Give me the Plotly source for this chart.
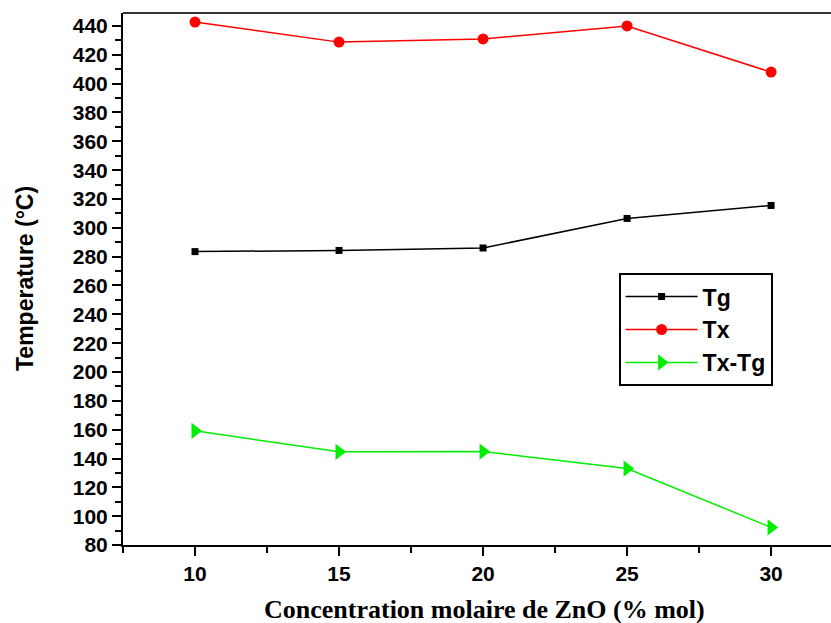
import plotly.graph_objects as go

conc = [10, 15, 20, 25, 30]
tg = [283.5, 284.3, 286, 306.5, 315.5]
tx = [442.7, 428.8, 431, 440, 408]
tx_tg = [159.2, 144.6, 144.8, 133, 92.2]

fig = go.Figure()
fig.add_trace(go.Scatter(x=conc, y=tg, mode="lines+markers", name="Tg",
                         line=dict(color="black", width=1.5),
                         marker=dict(symbol="square", size=7, color="black")))
fig.add_trace(go.Scatter(x=conc, y=tx, mode="lines+markers", name="Tx",
                         line=dict(color="#ff0000", width=1.5),
                         marker=dict(symbol="circle", size=11, color="#ff0000")))
fig.add_trace(go.Scatter(x=conc, y=tx_tg, mode="lines+markers", name="Tx-Tg",
                         line=dict(color="#00ee00", width=1.5),
                         marker=dict(symbol="triangle-right", size=14, color="#00ee00")))

fig.update_layout(
    width=831, height=623,
    margin=dict(l=123, r=0, t=13, b=78),
    paper_bgcolor="white", plot_bgcolor="white",
    font=dict(family="Liberation Sans, Arial", color="black"),
    showlegend=True,
    legend=dict(x=0.70, y=0.511, xanchor="left", yanchor="top",
                bordercolor="black", borderwidth=2, bgcolor="white",
                font=dict(size=23, weight="bold", family="Liberation Sans, Arial"),
                itemwidth=72, tracegroupgap=2,
                entrywidth=166, entrywidthmode="pixels"),
    shapes=[dict(type="line", xref="paper", yref="paper", x0=0, x1=1, y0=1, y1=1,
                 line=dict(color="#333", width=2))],
    annotations=[
        dict(text="Concentration molaire de ZnO (% mol)", xref="paper", yref="paper",
             x=0.5, y=0, xanchor="center", yanchor="middle", yshift=-64, xshift=7,
             showarrow=False,
             font=dict(family="Liberation Serif, Times New Roman", size=26, weight="bold")),
        dict(text="Temperature (°C)", xref="paper", yref="paper",
             x=0, y=0.5, xanchor="center", yanchor="middle", xshift=-98, yshift=0,
             textangle=-90, showarrow=False,
             font=dict(size=23, weight="bold")),
    ],
)
fig.update_xaxes(range=[7.5, 32.08], tickvals=conc, showgrid=False, zeroline=False,
                 automargin=False,
                 showline=True, linecolor="black", linewidth=2,
                 ticks="outside", ticklen=9, tickwidth=2, tickcolor="black",
                 minor=dict(tickvals=[7.5, 12.5, 17.5, 22.5, 27.5, 32.5], ticks="outside",
                            ticklen=6, tickwidth=2, tickcolor="black"),
                 tickfont=dict(size=21, weight="bold"))
fig.update_yaxes(range=[80, 449], tickvals=list(range(80, 441, 20)), showgrid=False, zeroline=False,
                 automargin=False,
                 showline=True, linecolor="black", linewidth=2,
                 ticks="outside", ticklen=9, tickwidth=2, tickcolor="black",
                 minor=dict(tickvals=list(range(90, 450, 20)), ticks="outside",
                            ticklen=6, tickwidth=2, tickcolor="black"),
                 tickfont=dict(size=21, weight="bold"))

fig.write_html("out.html", config={"displayModeBar": False},
               post_script="document.body.style.margin='0';")
